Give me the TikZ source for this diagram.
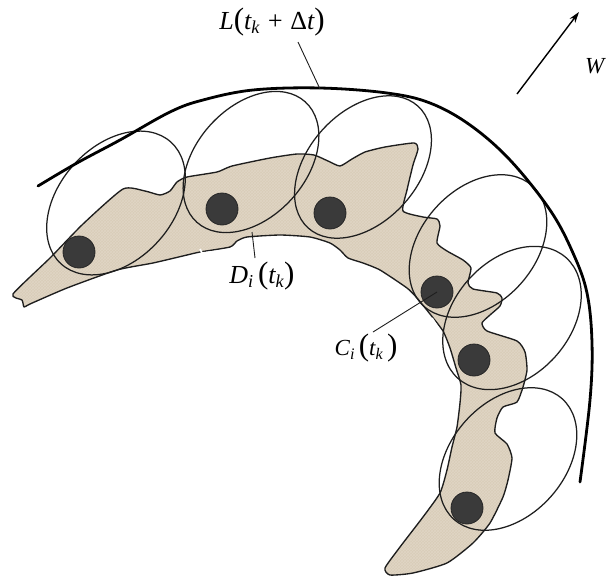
\documentclass[tikz,border=0pt]{standalone}
\usepackage{fontspec}
\setmainfont{Liberation Serif}
\usetikzlibrary{arrows.meta,patterns}
\definecolor{blobtan}{RGB}{217,204,184}
\definecolor{dotgray}{RGB}{58,58,58}
\definecolor{inkc}{RGB}{30,30,30}
\newcommand\pp[1]{{\fontsize{31}{31}\selectfont\upshape #1}}
\begin{document}
\begin{tikzpicture}[x=1pt,y=-1pt,
  ell/.style={draw=inkc,line width=1.25pt},
  dotn/.style={circle,fill=dotgray,draw=black!85,line width=0.8pt,minimum size=32pt,inner sep=0pt},
  leader/.style={draw=inkc,line width=0.9pt},
  lab/.style={inner sep=0pt,font=\fontsize{26}{28}\selectfont}]
\useasboundingbox (0,0) rectangle (606,576);
\fill[white] (0,0) rectangle (606,576);
% blob
\def\blobpts{(13,294) (50,258) (83,224) (123,189) (145,191) (160,195) (170,191) (177,182) (187,177) (217,172) (232,166) (270,158) (297,154) (314,155) (328,161) (340,166) (352,159) (365,152) (385,147) (414,143) (418,149) (413,165) (407,190) (403,211) (423,217) (437,219) (440,226) (437,243) (447,251) (463,260) (471,268) (468,283) (473,289) (497,293) (502,298) (500,306) (490,315) (482,323) (487,331) (517,341) (525,352) (527,370) (523,387) (517,402) (503,407) (497,418) (495,433) (507,444) (512,458) (508,480) (503,497) (490,523) (473,543) (447,563) (413,573) (390,575) (385,568) (400,547) (423,517) (440,493) (447,470) (452,447) (457,427) (460,403) (461,385) (456,368) (450,348) (443,331) (430,314) (417,298) (407,288) (380,270) (363,263) (348,258) (340,250) (330,243) (310,237) (280,235) (247,237) (237,241) (230,247) (200,252) (187,255) (153,263) (117,270) (67,288) (30,304) (24,307) (22,300)}
\fill[blobtan] plot[smooth cycle,tension=0.35] coordinates {\blobpts};
\fill[pattern=crosshatch,pattern color=white,opacity=0.18] plot[smooth cycle,tension=0.35] coordinates {\blobpts};
\draw[draw=inkc,line width=1.35pt,line join=round] plot[smooth cycle,tension=0.35] coordinates {\blobpts};
% small white marks
\draw[white,line width=1.6pt] (200,249) -- (202,253) -- (228,250);
\draw[white,line width=1.6pt] (432,318) -- (439,329);
% ellipses
\draw[ell,rotate around={48:(116,203)}] (116,203) ellipse [x radius=82,y radius=57];
\draw[ell,rotate around={48:(251,162)}] (251,162) ellipse [x radius=81,y radius=55];
\draw[ell,rotate around={48:(363,167)}] (363,167) ellipse [x radius=82,y radius=55];
\draw[ell,rotate around={48:(478,246)}] (478,246) ellipse [x radius=81,y radius=57];
\draw[ell,rotate around={48:(512,318)}] (512,318) ellipse [x radius=81,y radius=58];
\draw[ell,rotate around={48:(508,459)}] (508,459) ellipse [x radius=81,y radius=57];
% boundary curve L
\draw[draw=black,line width=2.8pt,line cap=round] plot[smooth,tension=0.6] coordinates {(38,186) (77,163) (120,140) (170,112) (203,100) (253,90) (320,88) (387,93) (430,103) (470,125) (510,160) (550,210) (573,253) (587,293) (592,343) (590,400) (580,482)};
% labels
\node[lab] (Llab) at (272,22) {\itshape L\pp(t\textsubscript{k} + \upshape Δ\itshape t\pp)};
\node[lab] (Dlab) at (262,276) {\itshape D\textsubscript{i}\,\pp(t\textsubscript{k}\pp)};
\node[lab,font=\fontsize{23}{25}\selectfont] (Clab) at (366,348) {\itshape C\textsubscript{i}\,\pp(t\textsubscript{k}\,\pp)};
\node[lab,anchor=west,font=\fontsize{23}{25}\selectfont] (Wlab) at (585,66) {\itshape W};
% leaders
\coordinate (Ltop) at (298,42);
\coordinate (Lcurve) at (320,89);
\draw[leader] (Ltop) -- (Lcurve);
\coordinate (Dell) at (252,232);
\coordinate (Dtop) at (255,258);
\draw[leader] (Dell) -- (Dtop);
\coordinate (Ctop) at (373,332);
% dots
\node[dotn] (d1) at (79,252) {};
\node[dotn] (d2) at (222,209) {};
\node[dotn] (d3) at (330,213) {};
\node[dotn] (d4) at (437,292) {};
\node[dotn] (d5) at (474,360) {};
\node[dotn] (d6) at (467,508) {};
\draw[leader] (Ctop) -- (d4.center);
% wind arrow
\coordinate (a0) at (517,94);
\coordinate (a1) at (579,12);
\draw[line width=1.4pt,-{Stealth[length=11pt,width=7pt]}] (a0) -- (a1);
\end{tikzpicture}
\end{document}
